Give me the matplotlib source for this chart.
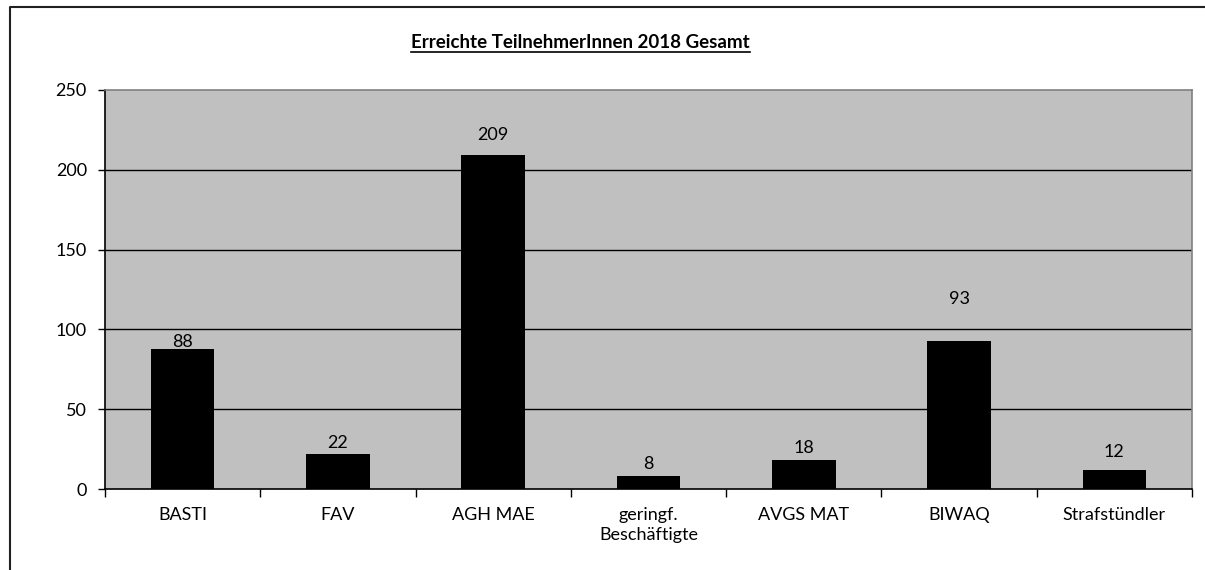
import matplotlib

matplotlib.use("Agg")

import matplotlib.pyplot as plt  # noqa: E402
from matplotlib.lines import Line2D  # noqa: E402

CATEGORIES = ["BASTI", "FAV", "AGH MAE", "geringf.\nBeschäftigte", "AVGS MAT", "BIWAQ", "Strafstündler"]
VALUES = [88, 22, 209, 8, 18, 93, 12]
Y_TICKS = [0, 50, 100, 150, 200, 250]
TITLE = "Erreichte TeilnehmerInnen 2018 Gesamt"

# label gap above each bar in points (Excel placed them unevenly)
LABEL_PAD = [-1, 2, 9, 3, 3, 24, 7]

plt.rcParams["font.family"] = ["Lato", "DejaVu Sans"]

fig = plt.figure(figsize=(12.05, 5.7), dpi=100)
ax = fig.add_axes([105 / 1205, 1 - 489 / 570, 1087 / 1205, 399 / 570])

ax.set_facecolor("#c0c0c0")
x = list(range(len(CATEGORIES)))
ax.bar(x, VALUES, width=0.41, color="black", zorder=3)

for xi, v, pad in zip(x, VALUES, LABEL_PAD, strict=True):
    ax.annotate(str(v), (xi, v), xytext=(0, pad), textcoords="offset points",
                ha="center", va="bottom", fontsize=13, zorder=4)

ax.set_xlim(-0.5, len(CATEGORIES) - 0.5)
ax.set_ylim(0, 250)
ax.set_yticks(Y_TICKS)
ax.set_yticklabels([str(t) for t in Y_TICKS], fontsize=13)
ax.tick_params(axis="y", direction="out", length=5, width=1, pad=8)

ax.set_xticks([i - 0.5 for i in range(len(CATEGORIES) + 1)])
ax.set_xticklabels([])
ax.set_xticks(x, minor=True)
ax.set_xticklabels(CATEGORIES, minor=True, fontsize=13, linespacing=1.3)
ax.tick_params(axis="x", which="major", direction="out", length=6, width=1)
ax.tick_params(axis="x", which="minor", length=0, pad=13)

for t in Y_TICKS[1:-1]:
    ax.axhline(t, color="black", linewidth=1, zorder=2)

ax.spines["left"].set_color("black")
ax.spines["bottom"].set_color("black")
ax.spines["top"].set_color("#808080")
ax.spines["right"].set_color("#808080")
for s in ax.spines.values():
    s.set_linewidth(1.2)

fig.text(580 / 1205, 1 - 43 / 570, TITLE, ha="center", va="center",
         fontsize=13.5, fontweight="bold")
# underline under title
fig.add_artist(Line2D([411 / 1205, 750 / 1205], [1 - 52 / 570, 1 - 52 / 570],
                      color="black", linewidth=1.2, transform=fig.transFigure))

# outer chart border (left and top visible)
fig.add_artist(Line2D([10 / 1205, 10 / 1205, 1], [0, 1 - 7 / 570, 1 - 7 / 570],
                      color="#202020", linewidth=1.5, transform=fig.transFigure))

fig.savefig("out.png", dpi=100)
